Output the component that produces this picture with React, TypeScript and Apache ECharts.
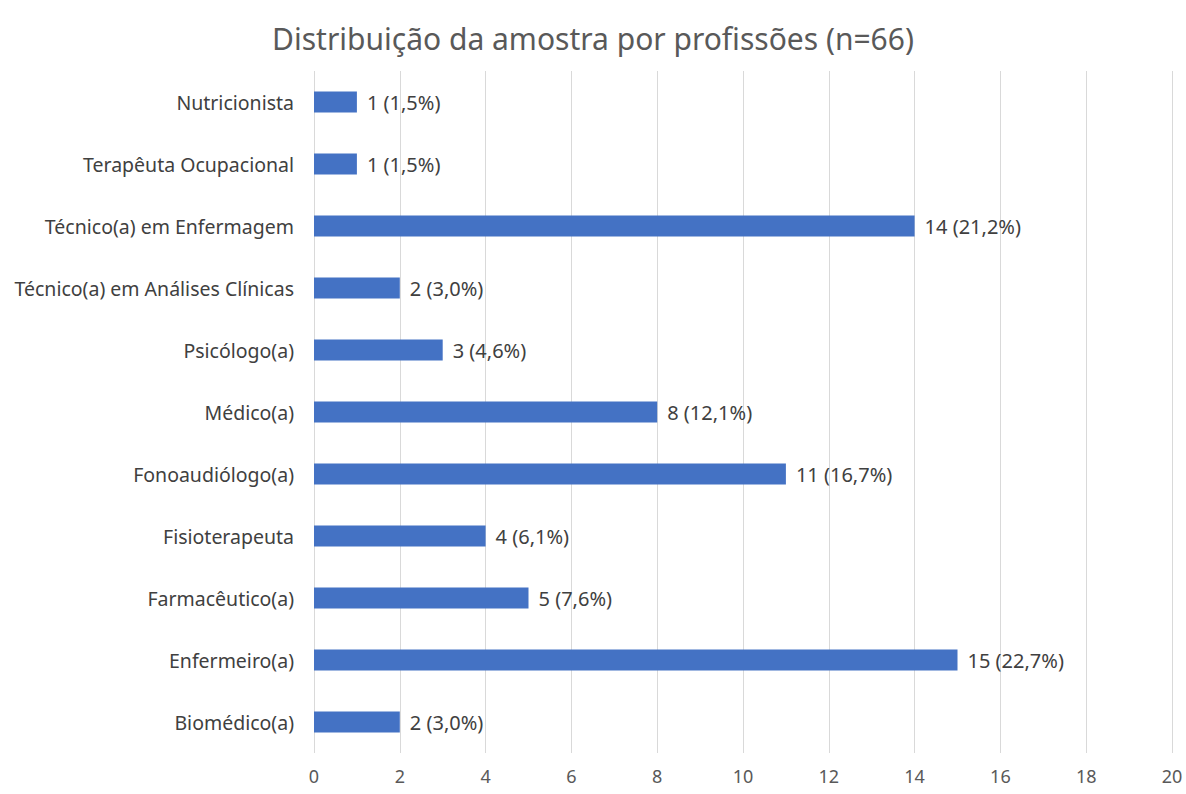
import React, { useEffect, useRef } from "react";
import * as echarts from "echarts";

const categories = [
  "Biomédico(a)",
  "Enfermeiro(a)",
  "Farmacêutico(a)",
  "Fisioterapeuta",
  "Fonoaudiólogo(a)",
  "Médico(a)",
  "Psicólogo(a)",
  "Técnico(a) em Análises Clínicas",
  "Técnico(a) em Enfermagem",
  "Terapêuta Ocupacional",
  "Nutricionista",
];
const counts = [2, 15, 5, 4, 11, 8, 3, 2, 14, 1, 1];
const percents = ["3,0%", "22,7%", "7,6%", "6,1%", "16,7%", "12,1%", "4,6%", "3,0%", "21,2%", "1,5%", "1,5%"];
const title = "Distribuição da amostra por profissões (n=66)";

export default function App() {
  const ref = useRef<HTMLDivElement>(null);
  useEffect(() => {
    if (!ref.current) return;
    document.body.style.margin = "0";
    const chart = echarts.init(ref.current, null, { renderer: "svg" });
    const font = "'Noto Sans', 'Open Sans', sans-serif";
    chart.setOption({
      animation: false,
      backgroundColor: "#ffffff",
      title: {
        text: title,
        left: "center",
        top: 18,
        textStyle: { color: "#595959", fontSize: 30, fontWeight: "normal", fontFamily: font },
      },
      grid: { left: 314, right: 14, top: 71, bottom: 41, containLabel: false, outerBoundsMode: "none" },
      xAxis: {
        type: "value",
        min: 0,
        max: 20,
        interval: 2,
        axisLine: { show: false },
        axisTick: { show: false },
        splitLine: { show: true, lineStyle: { color: "#d9d9d9", width: 1 } },
        axisLabel: { color: "#595959", fontSize: 18, fontFamily: font, margin: 14 },
      },
      yAxis: {
        type: "category",
        data: categories,
        axisLine: { show: false },
        axisTick: { show: false },
        splitLine: { show: false },
        axisLabel: { color: "#404040", fontSize: 19.5, fontFamily: font, margin: 20 },
      },
      series: [
        {
          type: "bar",
          data: counts,
          barWidth: 21,
          itemStyle: { color: "#4472C4" },
          label: {
            show: true,
            position: "right",
            distance: 10,
            color: "#404040",
            fontSize: 20,
            fontFamily: font,
            formatter: (p: any) => `${counts[p.dataIndex]} (${percents[p.dataIndex]})`,
          },
        },
      ],
    });
    return () => chart.dispose();
  }, []);
  return <div ref={ref} style={{ width: 1186, height: 794 }} />;
}
